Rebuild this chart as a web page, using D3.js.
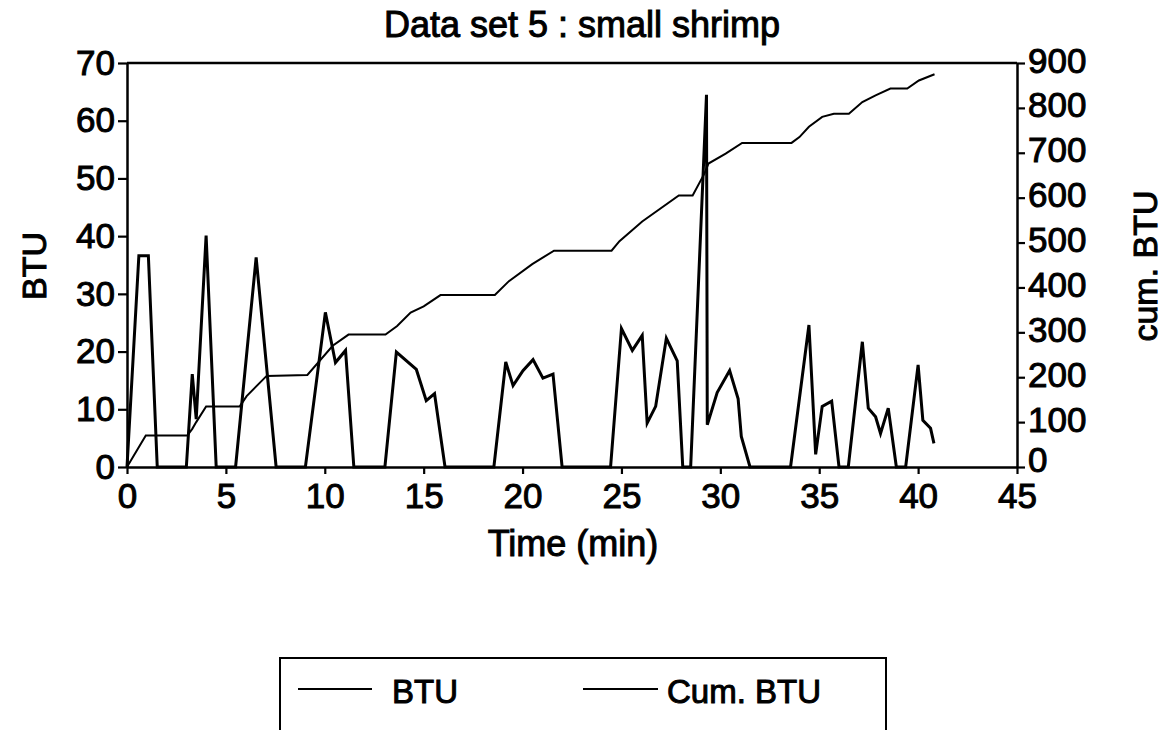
<!DOCTYPE html>
<html>
<head>
<meta charset="utf-8">
<script src="https://cdn.jsdelivr.net/npm/d3@7"></script>
<style>
  html, body { margin: 0; padding: 0; background: #fff; }
  svg { display: block; }
  text { font-family: "Liberation Sans", Arial, Helvetica, sans-serif; fill: #000; }
</style>
</head>
<body>
<svg id="chart" width="1166" height="730"></svg>
<script>
// BTU readings (left axis) over time in minutes
const btuTime = [0, 0.6, 1.08, 1.53, 3.0, 3.3, 3.5, 4.0, 4.51, 5.49, 6.53, 7.54,
  9.02, 10.03, 10.54, 11.05, 11.47, 13.04, 13.62, 14.63, 15.13, 15.55, 16.08,
  18.55, 19.15, 19.52, 20.02, 20.53, 21.03, 21.54, 22.0, 24.45, 25.0, 25.55,
  26.05, 26.3, 26.73, 27.27, 27.82, 28.1, 28.5, 29.3, 29.34, 29.84, 30.47,
  30.9, 31.06, 31.5, 33.55, 34.48, 34.82, 35.15, 35.63, 36.0, 36.47, 37.18,
  37.48, 37.85, 38.1, 38.49, 38.9, 39.37, 40.0, 40.24, 40.63, 40.8];
const btuValue = [0, 36.6, 36.6, 0, 0, 16.1, 8.3, 40.1, 0, 0, 36.3, 0,
  0, 26.8, 18.1, 20.2, 0, 0, 19.9, 16.9, 11.5, 12.7, 0,
  0, 18.2, 14.1, 16.7, 18.6, 15.4, 16.1, 0, 0, 24.0, 20.2,
  22.8, 7.6, 10.5, 22.3, 18.4, 0, 0, 64.5, 7.3, 12.9, 16.7,
  11.8, 5.3, 0, 0, 24.6, 2.2, 10.5, 11.4, 0, 0, 21.7,
  10.2, 8.7, 5.8, 10.2, 0, 0, 17.7, 8.1, 6.7, 4.1];

// Cumulative BTU (right axis) over time in minutes
const cumTime = [0, 0.95, 3.05, 3.3, 3.5, 4.0, 5.7, 6.05, 7.06, 9.12, 10.4, 11.2,
  13.07, 13.66, 14.34, 15.0, 15.85, 18.6, 19.31, 20.49, 21.59, 24.5, 24.9,
  26.05, 27.9, 28.6, 29.2, 29.4, 30.27, 31.1, 33.6, 34.0, 34.48, 35.15, 35.74,
  36.5, 37.18, 37.85, 38.6, 39.45, 40.04, 40.83];
const cumValue = [0, 70, 70, 85, 100, 135, 135, 158, 203, 205, 270, 295,
  295, 314, 344, 358, 383, 383, 414, 452, 482, 482, 503,
  547, 605, 605, 654, 676, 698, 722, 722, 735, 758, 780, 787,
  787, 813, 828, 843, 843, 861, 875];

// Axis tick values
const xTicks = [0, 5, 10, 15, 20, 25, 30, 35, 40, 45];
const yLeftTicks = [0, 10, 20, 30, 40, 50, 60, 70];
const yRightTicks = [0, 100, 200, 300, 400, 500, 600, 700, 800, 900];

const chartTitle = "Data set 5 : small shrimp";
const xTitle = "Time (min)";
const yLeftTitle = "BTU";
const yRightTitle = "cum. BTU";
const legendLabels = ["BTU", "Cum. BTU"];

const svg = d3.select("#chart");

const x = d3.scaleLinear().domain([0, 45]).range([127, 1017]);
const yL = d3.scaleLinear().domain([0, 70]).range([467, 63]);
const yR = d3.scaleLinear().domain([0, 900]).range([467, 63]);

// slightly heavier glyphs, like a photocopied print
const inkText = sel => sel.attr("stroke", "#000").attr("stroke-width", 1.0);

// top frame line
svg.append("line")
  .attr("x1", x(0)).attr("x2", x(45))
  .attr("y1", yL(70)).attr("y2", yL(70))
  .attr("stroke", "#000").attr("stroke-width", 2.5);

function styleAxis(g) {
  g.selectAll("path.domain").attr("stroke", "#000").attr("stroke-width", 2.5);
  g.selectAll(".tick line").attr("stroke", "#000").attr("stroke-width", 2.2);
  g.selectAll(".tick text")
    .attr("font-family", "Liberation Sans, Arial, sans-serif")
    .attr("font-size", 35)
    .attr("fill", "#000")
    .call(inkText);
}

// x axis
svg.append("g")
  .attr("transform", `translate(0,${yL(0)})`)
  .call(d3.axisBottom(x).tickValues(xTicks).tickSize(7).tickSizeOuter(0).tickPadding(9))
  .call(styleAxis);

// left axis
svg.append("g")
  .attr("transform", `translate(${x(0)},0)`)
  .call(d3.axisLeft(yL).tickValues(yLeftTicks).tickSize(9).tickSizeOuter(0).tickPadding(3))
  .call(styleAxis);

// right axis; its bottom label sits just above the "45" of the time axis
const rightAxis = svg.append("g")
  .attr("transform", `translate(${x(45)},0)`)
  .call(d3.axisRight(yR).tickValues(yRightTicks).tickSize(8).tickSizeOuter(0).tickPadding(3))
  .call(styleAxis);
rightAxis.selectAll(".tick text").attr("dy", d => d === 0 ? "0.12em" : "0.26em");

// BTU series
const btuData = btuTime.map((t, i) => [t, btuValue[i]]);
svg.append("path")
  .datum(btuData)
  .attr("fill", "none")
  .attr("stroke", "#000")
  .attr("stroke-width", 3)
  .attr("stroke-linejoin", "miter")
  .attr("d", d3.line().x(d => x(d[0])).y(d => yL(d[1])));

// cumulative series
const cumData = cumTime.map((t, i) => [t, cumValue[i]]);
svg.append("path")
  .datum(cumData)
  .attr("fill", "none")
  .attr("stroke", "#000")
  .attr("stroke-width", 2)
  .attr("d", d3.line().x(d => x(d[0])).y(d => yR(d[1])));

// titles
svg.append("text")
  .attr("x", 582).attr("y", 37)
  .attr("text-anchor", "middle")
  .attr("font-size", 36)
  .text(chartTitle).call(inkText);

svg.append("text")
  .attr("x", 573).attr("y", 556)
  .attr("text-anchor", "middle")
  .attr("font-size", 36)
  .text(xTitle).call(inkText);

svg.append("text")
  .attr("transform", "translate(46,266) rotate(-90)")
  .attr("text-anchor", "middle")
  .attr("font-size", 34)
  .text(yLeftTitle).call(inkText);

svg.append("text")
  .attr("transform", "translate(1157,266) rotate(-90)")
  .attr("text-anchor", "middle")
  .attr("font-size", 34)
  .text(yRightTitle).call(inkText);

// legend (box runs past the bottom edge)
const legend = svg.append("g");
legend.append("rect")
  .attr("x", 280).attr("y", 658)
  .attr("width", 606).attr("height", 120)
  .attr("fill", "none").attr("stroke", "#000").attr("stroke-width", 2);

const legendItems = [
  { x1: 298, x2: 372, tx: 392, label: legendLabels[0] },
  { x1: 583, x2: 658, tx: 667, label: legendLabels[1] }
];
legendItems.forEach(d => {
  legend.append("line")
    .attr("x1", d.x1).attr("x2", d.x2)
    .attr("y1", 689).attr("y2", 689)
    .attr("stroke", "#000").attr("stroke-width", 2);
  legend.append("text")
    .attr("x", d.tx).attr("y", 703)
    .attr("font-size", 33)
    .text(d.label).call(inkText);
});
</script>
</body>
</html>
